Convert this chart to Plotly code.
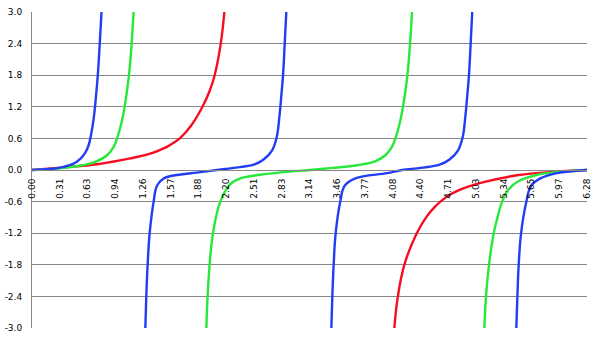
import math
import plotly.graph_objects as go

# ---- axis labels ----
x_tick_labels = ["0.00", "0.31", "0.63", "0.94", "1.26", "1.57", "1.88", "2.20", "2.51", "2.83",
                 "3.14", "3.46", "3.77", "4.08", "4.40", "4.71", "5.03", "5.34", "5.65", "5.97", "6.28"]
y_tick_values = [-3.0, -2.4, -1.8, -1.2, -0.6, 0.0, 0.6, 1.2, 1.8, 2.4, 3.0]
y_tick_labels = ["-3.0", "-2.4", "-1.8", "-1.2", "-0.6", "0.0", "0.6", "1.2", "1.8", "2.4", "3.0"]

# ---- blue series ----
blue_1_x = [0.0, 0.207, 0.358, 0.471, 0.547, 0.603, 0.641, 0.672, 0.700, 0.722, 0.745, 0.767, 0.787]
blue_1_y = [0.0, 0.02, 0.06, 0.12, 0.21, 0.33, 0.47, 0.70, 1.00, 1.35, 1.80, 2.40, 3.00]
blue_2_x = [1.283, 1.294, 1.309, 1.332, 1.377, 1.415, 1.490, 1.585, 1.906, 2.094, 2.283, 2.509, 2.622, 2.717, 2.770, 2.800, 2.822, 2.842, 2.861, 2.879]
blue_2_y = [-3.00, -2.40, -1.80, -1.20, -0.60, -0.30, -0.16, -0.11, -0.04, 0.00, 0.04, 0.10, 0.20, 0.37, 0.62, 1.00, 1.40, 1.80, 2.40, 3.00]
blue_3_x = [3.389, 3.400, 3.415, 3.438, 3.490, 3.540, 3.660, 4.020, 4.190, 4.400, 4.614, 4.727, 4.822, 4.875, 4.905, 4.927, 4.947, 4.966, 4.984]
blue_3_y = [-3.00, -2.40, -1.80, -1.20, -0.60, -0.30, -0.16, -0.06, 0.00, 0.04, 0.10, 0.20, 0.37, 0.62, 1.00, 1.40, 1.80, 2.40, 3.00]
blue_4_x = [5.483, 5.495, 5.510, 5.537, 5.597, 5.650, 5.755, 5.940, 6.283]
blue_4_y = [-3.00, -2.40, -1.80, -1.20, -0.60, -0.30, -0.16, -0.06, 0.00]

# ---- green series ----
green_1_x = [0.0, 0.31, 0.50, 0.63, 0.736, 0.849, 0.924, 0.980, 1.019, 1.049, 1.076, 1.098, 1.128, 1.150]
green_1_y = [0.0, 0.03, 0.07, 0.11, 0.17, 0.28, 0.44, 0.69, 0.94, 1.20, 1.51, 1.80, 2.40, 3.00]
green_2_x = [1.974, 1.988, 2.011, 2.049, 2.132, 2.245, 2.358, 2.585, 2.849, 3.142, 3.400, 3.680, 3.890, 4.000, 4.075, 4.131, 4.170, 4.200, 4.228, 4.250, 4.280, 4.302]
green_2_y = [-3.00, -2.40, -1.80, -1.20, -0.60, -0.27, -0.16, -0.09, -0.04, 0.00, 0.04, 0.09, 0.17, 0.28, 0.44, 0.69, 0.94, 1.20, 1.51, 1.80, 2.40, 3.00]
green_3_x = [5.121, 5.140, 5.174, 5.227, 5.270, 5.322, 5.400, 5.510, 5.700, 5.940, 6.283]
green_3_y = [-3.00, -2.40, -1.80, -1.20, -0.90, -0.60, -0.36, -0.21, -0.10, -0.04, 0.00]

# ---- red series ----
red_1_x = [0.0, 0.358, 0.736, 1.113, 1.339, 1.490, 1.528, 1.679, 1.800, 1.930, 2.013, 2.068, 2.137, 2.178]
red_1_y = [0.0, 0.05, 0.11, 0.22, 0.31, 0.41, 0.44, 0.61, 0.84, 1.20, 1.51, 1.80, 2.40, 3.00]
red_2_x = [4.102, 4.142, 4.215, 4.356, 4.470, 4.560, 4.630, 4.750, 4.930, 5.113, 5.490, 5.868, 6.283]
red_2_y = [-3.00, -2.40, -1.80, -1.20, -0.88, -0.70, -0.59, -0.45, -0.32, -0.23, -0.10, -0.04, 0.00]

x_tick_values = [i * math.pi / 10 for i in range(len(x_tick_labels))]


def joined(*segs):
    out = []
    for k, s in enumerate(segs):
        if k:
            out.append(None)
        out.extend(s)
    return out


series = [
    ("red", "rgb(248,12,32)", (red_1_x, red_2_x), (red_1_y, red_2_y)),
    ("green", "rgb(40,232,60)", (green_1_x, green_2_x, green_3_x), (green_1_y, green_2_y, green_3_y)),
    ("blue", "rgb(34,62,245)", (blue_1_x, blue_2_x, blue_3_x, blue_4_x), (blue_1_y, blue_2_y, blue_3_y, blue_4_y)),
]

fig = go.Figure()
for name, color, xs, ys in series:
    fig.add_trace(go.Scatter(
        x=joined(*xs), y=joined(*ys), mode="lines", name=name,
        line=dict(color=color, width=2.4, shape="spline", smoothing=1.1),
        connectgaps=False, hoverinfo="skip", showlegend=False,
    ))

grid = "#878787"
fig.update_layout(
    width=600, height=340,
    margin=dict(l=32, r=13, t=12, b=12, autoexpand=False),
    paper_bgcolor="white", plot_bgcolor="white",
    font=dict(family="DejaVu Sans", size=9, color="black"),
)
fig.update_xaxes(
    range=[0, 2 * math.pi], tickvals=x_tick_values, ticktext=x_tick_labels,
    tickangle=-90, showgrid=False, zeroline=False,
    showline=True, linecolor=grid, linewidth=1,
    anchor="free", position=0.5, automargin=False,
    ticks="outside", ticklen=4, tickcolor="rgba(0,0,0,0)",
    tickfont=dict(family="DejaVu Sans", size=9, color="black"),
)
fig.update_yaxes(
    range=[-3, 3], tickvals=y_tick_values, ticktext=y_tick_labels,
    showgrid=True, gridcolor=grid, gridwidth=1, zeroline=False,
    showline=True, linecolor=grid, linewidth=1, automargin=False,
    ticks="outside", ticklen=7, tickcolor="rgba(0,0,0,0)",
    tickfont=dict(family="DejaVu Sans", size=9, color="black"),
)

fig.write_html("out.html")
